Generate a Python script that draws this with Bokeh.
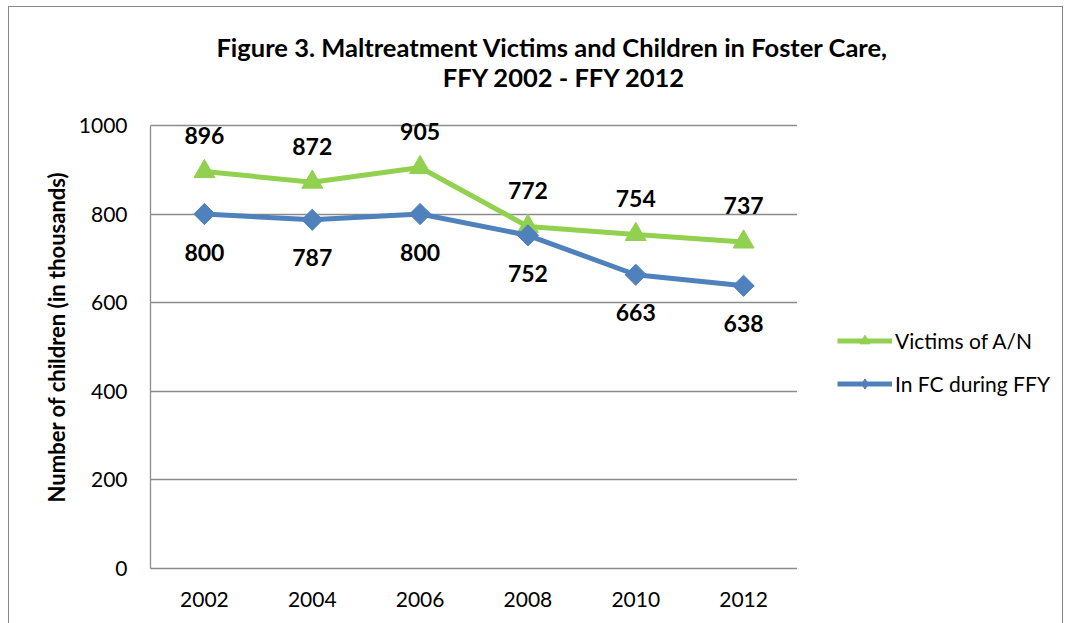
import math
from bokeh.plotting import figure
from bokeh.layouts import row, column
from bokeh.models import ColumnDataSource, LabelSet, Label, Legend, LegendItem, Range1d, FixedTicker
from bokeh.core.properties import value
from bokeh.embed import file_html
from bokeh.resources import INLINE

years = ["2002", "2004", "2006", "2008", "2010", "2012"]
victims = [896, 872, 905, 772, 754, 737]
in_fc = [800, 787, 800, 752, 663, 638]
series_names = ["Victims of A/N", "In FC during FFY"]
title_lines = ["Figure 3. Maltreatment Victims and Children in Foster Care,", "FFY 2002 - FFY 2012"]
y_ticks = [0, 200, 400, 600, 800, 1000]

FONT = "Lato"
GREEN = "#92D050"
BLUE = "#4F81BD"
GRID = "#8C8C8C"

# ---- title strip ----
TW, TH = 1053, 98
tf = figure(width=TW, height=TH, x_range=Range1d(0, TW), y_range=Range1d(TH, 0),
            output_backend="svg", toolbar_location=None,
            min_border_left=0, min_border_right=0, min_border_top=0, min_border_bottom=0)
tf.axis.visible = False
tf.grid.visible = False
tf.outline_line_color = None
for txt, cx, cy in zip(title_lines, [543, 555], [39, 69]):
    tf.add_layout(Label(x=cx, y=cy, text=txt, text_align="center", text_baseline="middle",
                        text_font=FONT, text_font_size="25.5px", text_font_style="bold",
                        text_color="black"))

# ---- main chart ----
src = ColumnDataSource(dict(x=years, v=victims, f=in_fc,
                            vl=[str(a) for a in victims], fl=[str(a) for a in in_fc]))

PH = 522
p = figure(x_range=years, y_range=Range1d(0, 1045), width=788, height=PH,
           output_backend="svg", toolbar_location=None,
           min_border_left=141, min_border_right=0, min_border_top=0, min_border_bottom=59)
p.outline_line_color = None
p.x_range.range_padding = 0

p.yaxis.ticker = FixedTicker(ticks=y_ticks)
p.yaxis.bounds = (0, 1000)
p.ygrid.grid_line_color = GRID
p.ygrid.grid_line_width = 1.3
p.xgrid.grid_line_color = None
for ax in (p.xaxis, p.yaxis):
    ax.axis_line_color = GRID
    ax.axis_line_width = 1.3
    ax.major_tick_line_color = None
    ax.minor_tick_line_color = None
    ax.major_label_text_font = FONT
    ax.major_label_text_font_size = "21px"
    ax.major_label_text_color = "black"
p.yaxis.major_label_standoff = 17
p.xaxis.major_label_standoff = 17
p.yaxis.axis_label = "Number of children (in thousands)"
p.yaxis.axis_label_text_font = FONT
p.yaxis.axis_label_text_font_size = "22px"
p.yaxis.axis_label_text_font_style = "bold"
p.yaxis.axis_label_text_color = "black"
p.yaxis.axis_label_standoff = 6

p.line("x", "v", source=src, line_color=GREEN, line_width=5)
p.scatter("x", "v", source=src, marker="triangle", size=21, fill_color=GREEN, line_color=GREEN)
p.line("x", "f", source=src, line_color=BLUE, line_width=5)
p.scatter("x", "f", source=src, marker="square", angle=math.pi / 4, size=15,
          fill_color=BLUE, line_color=BLUE)

p.add_layout(LabelSet(x="x", y="v", text="vl", source=src, y_offset=36, text_align="center",
                      text_baseline="middle", text_font=value(FONT), text_font_size="23px",
                      text_font_style="bold", text_color="black"))
p.add_layout(LabelSet(x="x", y="f", text="fl", source=src, y_offset=-38, text_align="center",
                      text_baseline="middle", text_font=value(FONT), text_font_size="23px",
                      text_font_style="bold", text_color="black"))

# ---- legend panel (proxy renderers with the series' styles, kept out of view) ----
lg = figure(width=265, height=PH, x_range=Range1d(0, 1), y_range=Range1d(0, 1),
            output_backend="svg", toolbar_location=None,
            min_border_left=0, min_border_right=0, min_border_top=0, min_border_bottom=0)
lg.axis.visible = False
lg.grid.visible = False
lg.outline_line_color = None
proxy = ColumnDataSource(dict(x=[-5, -6], y=[-5, -6]))
a1 = lg.line("x", "y", source=proxy, line_color=GREEN, line_width=5)
a2 = lg.scatter("x", "y", source=proxy, marker="triangle", size=16, fill_color=GREEN, line_color=GREEN)
b1 = lg.line("x", "y", source=proxy, line_color=BLUE, line_width=5)
b2 = lg.scatter("x", "y", source=proxy, marker="diamond", size=21,
                fill_color=BLUE, line_color=BLUE)
legend = Legend(items=[LegendItem(label=series_names[0], renderers=[a1, a2]),
                       LegendItem(label=series_names[1], renderers=[b1, b2])],
                location=(40, 172), orientation="vertical",
                label_text_font=FONT, label_text_font_size="21px", label_text_color="black",
                glyph_width=55, glyph_height=25, spacing=18, padding=0, margin=0,
                label_standoff=3, border_line_color=None, background_fill_alpha=0)
lg.add_layout(legend, "center")

layout = column(tf, row(p, lg),
                styles={"border": "1px solid #888888", "margin": "6px 0px 0px 8px"})

open("out.html", "w").write(file_html(layout, INLINE))
